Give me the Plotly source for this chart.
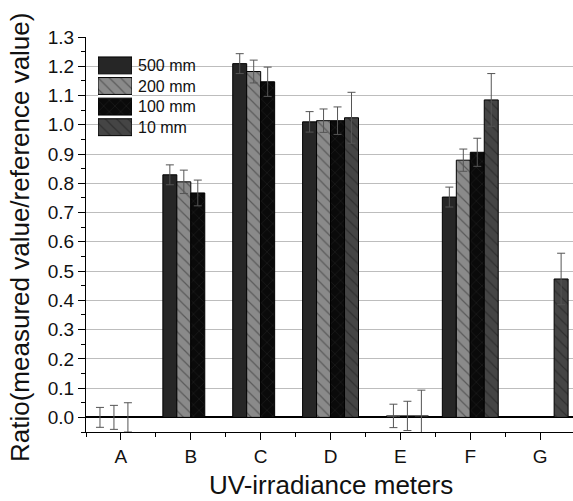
import plotly.graph_objects as go

categories = ["A", "B", "C", "D", "E", "F", "G"]
series_names = ["500 mm", "200 mm", "100 mm", "10 mm"]
x_title = "UV-irradiance meters"
y_title = "Ratio(measured value/reference value)"

# ratio values (None = no bar)
v500 = [0.0, 0.829, 1.209, 1.010, None, 0.753, None]
v200 = [0.0, 0.805, 1.182, 1.014, 0.005, 0.879, None]
v100 = [0.0, 0.767, 1.147, 1.014, 0.005, 0.906, None]
v10 = [None, None, None, 1.024, 0.005, 1.085, 0.473]

# symmetric error values
e500 = [0.034, 0.034, 0.034, 0.035, None, 0.034, None]
e200 = [0.041, 0.040, 0.039, 0.040, 0.040, 0.038, None]
e100 = [0.050, 0.044, 0.050, 0.047, 0.050, 0.048, None]
e10 = [None, None, None, 0.087, 0.088, 0.090, 0.088]

values = [v500, v200, v100, v10]
errors = [e500, e200, e100, e10]

styles = [
    dict(color="#262626", shape="", fg="#262626", bg="#262626"),
    dict(color="#8a8a8a", shape="\\", fg="#2a2a2a", bg="#8a8a8a"),
    dict(color="#0a0a0a", shape="x", fg="#303030", bg="#0a0a0a"),
    dict(color="#454545", shape="\\", fg="#1a1a1a", bg="#454545"),
]

FONT = "Liberation Sans, Arial, sans-serif"

# pixel geometry of the plotting area
W, H = 573, 501
L, R, T, B = 86, 0, 37, 69
PW, PH = W - L - R, H - T - B


def px_x(p):
    return (p - L) / PW


def px_y(p):
    return (H - B - p) / PH


xpos = list(range(len(categories)))
fig = go.Figure()
for name, vals, errs, st in zip(series_names, values, errors, styles):
    pattern = dict(shape=st["shape"], fgcolor=st["fg"], bgcolor=st["bg"],
                   size=8, solidity=0.15, fillmode="overlay")
    fig.add_trace(go.Bar(
        name=name, x=xpos, y=vals, showlegend=False,
        marker=dict(color=st["color"], line=dict(color="#000000", width=1), pattern=pattern),
        error_y=dict(type="data", array=errs, visible=True, color="#555555",
                     thickness=1, width=4),
    ))

# custom legend: swatches drawn as bars on a small inset axis
for i, (name, st) in enumerate(zip(series_names, styles)):
    pattern = dict(shape=st["shape"], fgcolor=st["fg"], bgcolor=st["bg"],
                   size=8, solidity=0.15, fillmode="overlay")
    fig.add_trace(go.Bar(
        x=[1], y=[i], orientation="h", width=0.82, offset=-0.41, base=0,
        xaxis="x2", yaxis="y2", showlegend=False, hoverinfo="skip",
        marker=dict(color=st["color"], line=dict(color="#000000", width=1), pattern=pattern),
    ))
    fig.add_annotation(text=name, x=px_x(136), xref="paper", xanchor="left",
                       y=i, yref="y2", yanchor="middle", showarrow=False,
                       font=dict(family=FONT, size=16, color="#111111"))

# axis titles
fig.add_annotation(text=x_title, x=px_x(331), y=px_y(485), xref="paper", yref="paper",
                   xanchor="center", yanchor="middle", showarrow=False,
                   font=dict(family=FONT, size=26, color="#111111"))
fig.add_annotation(text=y_title, x=px_x(20), y=px_y(238), xref="paper", yref="paper",
                   xanchor="center", yanchor="middle", showarrow=False, textangle=-90,
                   font=dict(family=FONT, size=26, color="#111111"))

fig.update_layout(
    width=W, height=H,
    margin=dict(l=L, r=R, t=T, b=B),
    paper_bgcolor="white", plot_bgcolor="white",
    barmode="group", bargap=0.2, bargroupgap=0,
    font=dict(family=FONT, color="#111111", size=16),
    showlegend=False,
    shapes=[dict(type="rect", xref="paper", yref="paper", layer="between",
                 x0=px_x(94), x1=px_x(203), y0=px_y(139), y1=px_y(54),
                 fillcolor="white", line=dict(width=0))],
    xaxis=dict(
        range=[-0.5, 6.47], tickmode="array", tickvals=xpos, ticktext=categories,
        showgrid=False, zeroline=False, showline=True, linecolor="#000000", linewidth=1,
        ticks="outside", ticklen=7, tickcolor="#000000", automargin=False,
        tickfont=dict(size=19),
        minor=dict(tickvals=[i - 0.5 for i in range(len(categories) + 1)],
                   ticks="outside", ticklen=4, tickcolor="#000000", showgrid=False),
    ),
    yaxis=dict(
        range=[-0.05, 1.3], tick0=0, dtick=0.1, tickformat=".1f",
        showgrid=True, gridcolor="#bdbdbd", gridwidth=1,
        zeroline=True, zerolinecolor="#000000", zerolinewidth=1.6,
        showline=True, linecolor="#000000", linewidth=1,
        ticks="outside", ticklen=7, tickcolor="#000000", automargin=False,
        tickfont=dict(size=19),
        minor=dict(dtick=0.05, tick0=0, ticks="outside", ticklen=4, tickcolor="#000000",
                   showgrid=False),
    ),
    xaxis2=dict(domain=[px_x(98), px_x(132)], range=[0, 1], visible=False, fixedrange=True,
                anchor="y2"),
    yaxis2=dict(domain=[px_y(137.5), px_y(55.1)], range=[3.5, -0.5], visible=False,
                fixedrange=True, anchor="x2"),
)

fig.write_html("out.html", config={"displayModeBar": False},
               post_script="document.body.style.margin='0';document.body.style.padding='0';")
